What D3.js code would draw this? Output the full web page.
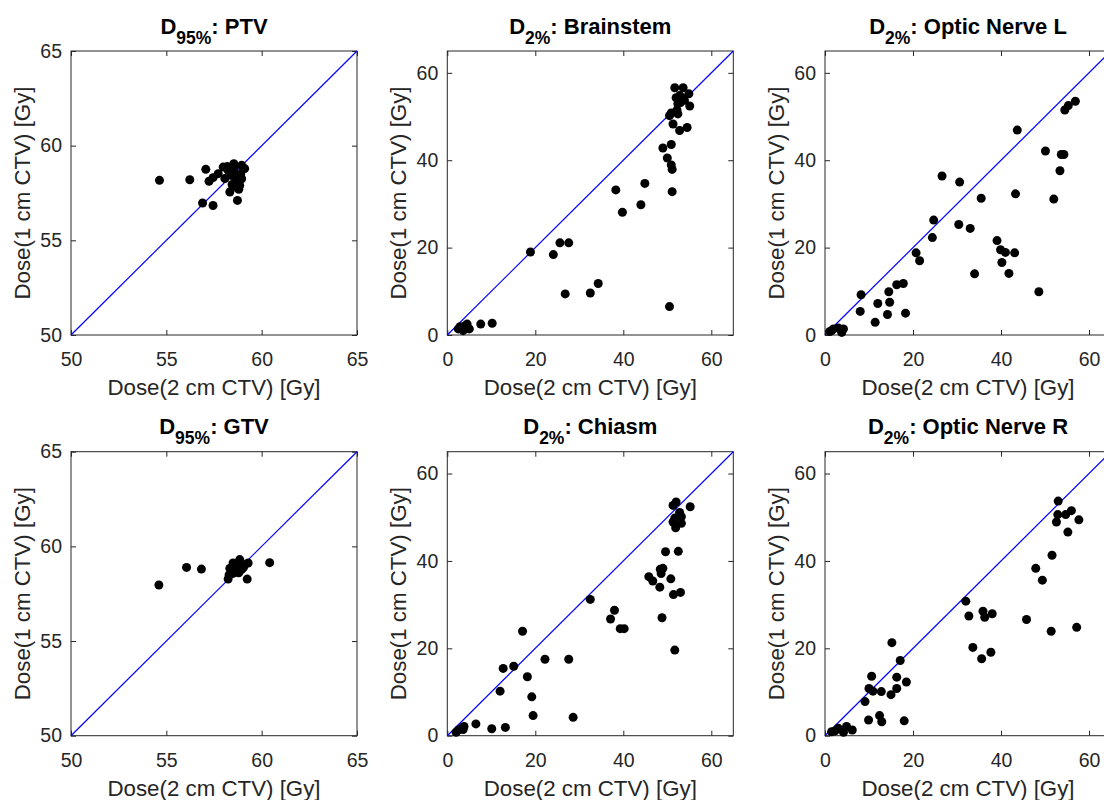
<!DOCTYPE html>
<html>
<head>
<meta charset="utf-8">
<script src="https://cdn.jsdelivr.net/npm/d3@7"></script>
<style>
  body { margin: 0; background: #fff; }
  svg { display: block; font-family: "Liberation Sans", Arial, sans-serif; }
</style>
</head>
<body>
<svg width="1104" height="800"></svg>
<script>
// values (x = 2 cm CTV, y = 1 cm CTV)

const ptvX = [54.64, 56.23, 57.07, 56.9, 57.45, 58.73, 57.24, 57.45, 57.72, 57.98, 58.54, 59.03, 58.95,
  58.68, 58.77, 58.33, 58.5, 58.24, 58.4, 58.07, 58.85, 59.11, 58.6, 58.9, 58.2, 58.65, 58.8, 58.45, 58.95, 58.55];
const ptvY = [58.17, 58.2, 58.75, 56.97, 56.84, 57.11, 58.12, 58.31, 58.52, 58.87, 59.05, 58.79, 58.96,
  58.34, 57.99, 57.55, 57.81, 58.7, 58.43, 58.26, 57.9, 58.79, 58.55, 58.5, 58.9, 58.1, 57.7, 57.95, 58.25, 58.85];

const brainX = [51.7, 53.6, 54.9, 52.0, 53.2, 52.4, 53.9, 55.1, 50.9, 52.4, 50.5, 51.3, 52.8, 54.5, 49.0,
  50.9, 50.0, 50.9, 51.1, 51.1, 50.5, 38.3, 39.8, 44.9, 44.0, 18.9, 24.1, 25.6, 27.6, 26.8, 32.5, 34.3,
  7.6, 10.2, 2.5, 2.9, 4.0, 4.5, 5.0, 3.6, 52.8, 53.0, 52.2];
const brainY = [56.6, 56.6, 55.2, 54.3, 54.4, 52.9, 53.7, 52.4, 50.8, 50.6, 50.2, 48.3, 46.8, 47.5, 42.8,
  43.6, 40.5, 38.9, 37.9, 32.8, 6.5, 33.2, 28.1, 34.7, 29.8, 19.0, 18.4, 21.1, 21.1, 9.4, 9.6, 11.8,
  2.5, 2.7, 1.4, 1.9, 2.1, 2.5, 1.4, 1.0, 54.8, 53.2, 51.5];

const onlX = [56.9, 55.3, 54.5, 43.7, 50.1, 53.7, 54.3, 53.4, 52.0, 43.3, 35.5, 30.6, 26.6, 24.7, 24.4,
  30.4, 33.0, 39.1, 39.9, 41.0, 43.1, 40.2, 41.8, 34.0, 48.6, 20.7, 21.5, 16.3, 17.8, 14.5, 14.7, 12.0,
  14.2, 18.3, 11.4, 8.2, 8.0, 1.1, 1.9, 3.0, 4.2, 3.8, 1.5];
const onlY = [53.5, 52.5, 51.5, 46.9, 42.1, 41.3, 41.3, 37.6, 31.1, 32.3, 31.3, 35.0, 36.4, 26.3, 22.3,
  25.3, 24.4, 21.6, 19.5, 18.9, 18.8, 16.6, 14.1, 14.0, 9.9, 18.8, 17.0, 11.5, 11.8, 9.9, 7.5, 7.2,
  4.7, 5.0, 2.9, 9.2, 5.4, 0.8, 1.4, 1.6, 1.4, 0.6, 1.0];

const gtvX = [54.61, 56.06, 56.84, 60.42, 59.24, 58.24, 58.33, 58.5, 58.85, 59.11, 59.29, 58.68, 58.94,
  58.5, 58.29, 58.77, 58.6, 59.0, 58.4, 58.8, 58.55, 59.05];
const gtvY = [57.96, 58.89, 58.8, 59.14, 58.27, 58.27, 58.84, 59.12, 59.3, 59.03, 59.12, 58.66, 58.77,
  58.57, 58.49, 58.99, 58.9, 58.85, 58.7, 58.6, 59.05, 58.9];

const chiasmX = [55.2, 52.0, 51.3, 52.8, 53.2, 51.7, 51.3, 53.2, 51.9, 49.6, 52.5, 49.0, 48.6, 48.4, 45.8,
  46.7, 50.8, 48.3, 51.4, 53.0, 48.8, 51.7, 32.5, 37.1, 38.0, 39.3, 40.2, 17.1, 12.7, 15.1, 12.0, 18.2,
  19.2, 19.5, 22.2, 27.6, 28.6, 6.5, 10.1, 13.2, 2.0, 2.5, 3.3, 3.8, 3.6];
const chiasmY = [52.4, 53.5, 52.7, 51.1, 50.1, 49.8, 48.9, 48.6, 47.6, 42.1, 42.2, 38.3, 37.1, 38.1, 36.4,
  35.4, 35.9, 34.0, 32.3, 32.8, 27.0, 19.6, 31.2, 26.7, 28.7, 24.5, 24.5, 23.9, 15.4, 15.9, 10.2, 13.5,
  8.9, 4.6, 17.5, 17.5, 4.2, 2.7, 1.6, 1.9, 0.8, 1.3, 1.7, 2.1, 1.4];

const onrX = [53.0, 52.9, 52.6, 54.7, 56.0, 57.7, 55.2, 51.6, 47.9, 49.4, 32.0, 32.7, 35.9, 36.3, 38.0,
  33.6, 37.7, 35.6, 45.8, 51.4, 57.2, 15.2, 17.1, 16.3, 18.5, 16.3, 15.0, 12.8, 10.6, 10.0, 10.9, 9.1,
  9.9, 12.4, 12.9, 18.0, 1.5, 3.0, 4.2, 4.9, 6.2, 2.3];
const onrY = [53.7, 50.6, 48.9, 50.6, 51.5, 49.4, 46.6, 41.3, 38.3, 35.6, 30.8, 27.4, 28.5, 27.1, 27.9,
  20.2, 19.1, 17.6, 26.6, 23.9, 24.8, 21.3, 17.2, 13.4, 12.3, 10.8, 9.4, 10.1, 13.6, 10.8, 10.2, 7.8,
  3.6, 4.6, 3.2, 3.4, 0.9, 1.7, 0.8, 2.1, 1.3, 1.1];

const tumourTicks = [50, 55, 60, 65];
const organTicks = [0, 20, 40, 60];

const panels = [
  { sub: "95%", name: "PTV", xs: ptvX, ys: ptvY, domain: [50, 65], ticks: tumourTicks, row: 0, col: 0 },
  { sub: "2%", name: "Brainstem", xs: brainX, ys: brainY, domain: [0, 65], ticks: organTicks, row: 0, col: 1 },
  { sub: "2%", name: "Optic Nerve L", xs: onlX, ys: onlY, domain: [0, 65], ticks: organTicks, row: 0, col: 2 },
  { sub: "95%", name: "GTV", xs: gtvX, ys: gtvY, domain: [50, 65], ticks: tumourTicks, row: 1, col: 0 },
  { sub: "2%", name: "Chiasm", xs: chiasmX, ys: chiasmY, domain: [0, 65], ticks: organTicks, row: 1, col: 1 },
  { sub: "2%", name: "Optic Nerve R", xs: onrX, ys: onrY, domain: [0, 65], ticks: organTicks, row: 1, col: 2 }
];

const svg = d3.select("svg");

const colLeft = [71, 447.3, 825];
const rowTop = [51, 451.7];
const plotW = 286, plotH = 284;
const axisColor = "#262626";

panels.forEach(p => {
  const left = colLeft[p.col], top = rowTop[p.row];
  const g = svg.append("g").attr("transform", `translate(${left},${top})`);

  const x = d3.scaleLinear().domain(p.domain).range([0, plotW]);
  const y = d3.scaleLinear().domain(p.domain).range([plotH, 0]);

  // box
  g.append("rect")
    .attr("width", plotW).attr("height", plotH)
    .attr("fill", "none").attr("stroke", axisColor).attr("stroke-width", 1);

  // inward ticks on all four sides, labels only bottom and left
  const bottom = g.append("g").attr("transform", `translate(0,${plotH})`)
    .call(d3.axisBottom(x).tickValues(p.ticks).tickSizeInner(-5).tickSizeOuter(0).tickPadding(17));
  const leftAx = g.append("g")
    .call(d3.axisLeft(y).tickValues(p.ticks).tickSizeInner(-5).tickSizeOuter(0).tickPadding(9));
  const topAx = g.append("g")
    .call(d3.axisTop(x).tickValues(p.ticks).tickSizeInner(-5).tickSizeOuter(0).tickFormat(""));
  const rightAx = g.append("g").attr("transform", `translate(${plotW},0)`)
    .call(d3.axisRight(y).tickValues(p.ticks).tickSizeInner(-5).tickSizeOuter(0).tickFormat(""));

  [bottom, leftAx, topAx, rightAx].forEach(a => {
    a.select(".domain").remove();
    a.selectAll("line").attr("stroke", axisColor);
    a.selectAll("text")
      .attr("fill", axisColor)
      .style("font-size", "19.5px")
      .style("font-family", "'Liberation Sans', Arial, sans-serif");
  });

  // identity line
  g.append("line")
    .attr("x1", x(p.domain[0])).attr("y1", y(p.domain[0]))
    .attr("x2", x(p.domain[1])).attr("y2", y(p.domain[1]))
    .attr("stroke", "#0000ff").attr("stroke-width", 1.2);

  // the points
  g.selectAll("circle")
    .data(p.xs.map((v, i) => [v, p.ys[i]]))
    .enter()
    .append("circle")
      .attr("cx", d => x(d[0]))
      .attr("cy", d => y(d[1]))
      .attr("r", 4.5)
      .attr("fill", "#000");

  // axis labels
  g.append("text")
    .attr("x", plotW / 2).attr("y", plotH + 60)
    .attr("text-anchor", "middle")
    .attr("fill", axisColor)
    .style("font-size", "22.3px")
    .text("Dose(2 cm CTV) [Gy]");

  g.append("text")
    .attr("transform", `translate(-41,${plotH / 2}) rotate(-90)`)
    .attr("text-anchor", "middle")
    .attr("fill", axisColor)
    .style("font-size", "22.3px")
    .text("Dose(1 cm CTV) [Gy]");

  // title with subscript
  const t = g.append("text")
    .attr("x", plotW / 2).attr("y", -17.5)
    .attr("text-anchor", "middle")
    .attr("fill", "#000")
    .style("font-weight", "bold")
    .style("font-size", "22px");
  t.append("tspan").text("D");
  t.append("tspan").attr("dy", 10).style("font-size", "17.5px").text(p.sub);
  t.append("tspan").attr("dy", -10).text(": " + p.name);
});
</script>
</body>
</html>
